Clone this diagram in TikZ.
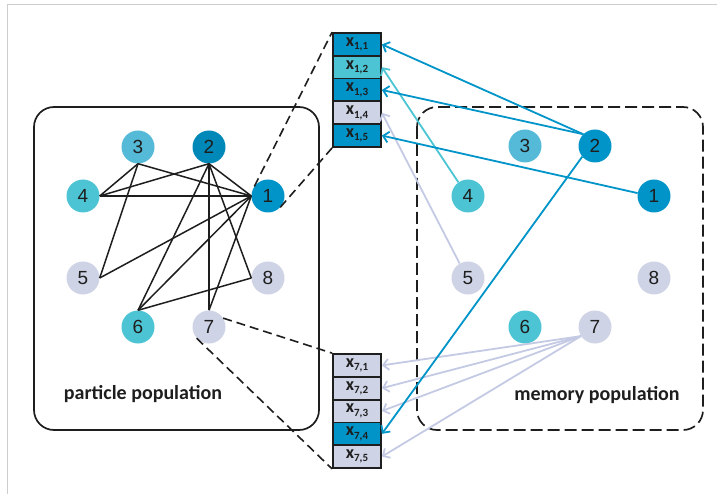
\documentclass[tikz,border=0pt]{standalone}
\usepackage{fontspec}
\setmainfont{Liberation Sans}
\newfontfamily\labelfont{Carlito}
\usetikzlibrary{arrows.meta}

\definecolor{cdark}{RGB}{0,148,200}
\definecolor{cmid}{RGB}{84,186,216}
\definecolor{cteal}{RGB}{76,196,212}
\definecolor{clav}{RGB}{206,211,230}
\definecolor{clavline}{RGB}{196,202,228}
\definecolor{ink}{RGB}{30,30,30}
\definecolor{framegray}{RGB}{205,205,205}

% subscript of a memory cell label
\newcommand\cellsub[1]{\raisebox{-0.4ex}{\fontsize{11}{11}\selectfont #1}}

\begin{document}
\begin{tikzpicture}[x=1pt,y=-1pt,
  pt/.style={circle,minimum size=33pt,inner sep=0pt,text=ink,
    font=\fontsize{19}{19}\selectfont},
  cellbox/.style={draw=ink,line width=1.8pt,minimum width=48pt,
    minimum height=22.8pt,inner sep=0pt,text=ink,
    font=\labelfont\bfseries\fontsize{18}{18}\selectfont},
  popbox/.style={draw=ink,line width=1.7pt,rounded corners=20pt},
  edge/.style={draw=ink,line width=1.5pt},
  zoomline/.style={draw=ink,line width=1.6pt,dash pattern=on 9pt off 5pt},
  copyarrow/.style={line width=1.8pt,
    -{Straight Barb[length=5.5pt,width=11pt,line width=1.8pt]}},
  poplabel/.style={text=ink,font=\labelfont\bfseries\fontsize{20}{20}\selectfont}
]
\useasboundingbox (0,0) rectangle (717,494);

% outer frame
\draw[framegray,line width=1.4pt] (7.5,494) -- (7.5,4.5) -- (717,4.5);

% population containers
\draw[popbox] (34,107) rectangle (319,430);
\draw[popbox,dash pattern=on 12pt off 5pt] (417,107) rectangle (703,430);
\node[poplabel] (plabel) at (143,394) {particle population};
\node[poplabel] (mlabel) at (597,395) {memory population};

% particle population
\node[pt,fill=cdark] (p1) at (268,196) {1};
\node[pt,fill=cdark!92!black] (p2) at (209,147) {2};
\node[pt,fill=cmid] (p3) at (138,147) {3};
\node[pt,fill=cteal] (p4) at (83,196) {4};
\node[pt,fill=clav] (p5) at (83,278) {5};
\node[pt,fill=cteal] (p6) at (138,327) {6};
\node[pt,fill=clav] (p7) at (209,327) {7};
\node[pt,fill=clav] (p8) at (268,278) {8};

% memory population
\node[pt,fill=cdark] (m1) at (654,196) {1};
\node[pt,fill=cdark] (m2) at (595,146) {2};
\node[pt,fill=cmid] (m3) at (525,146) {3};
\node[pt,fill=cteal] (m4) at (468,196) {4};
\node[pt,fill=clav] (m5) at (468,278) {5};
\node[pt,fill=cteal] (m6) at (525,327) {6};
\node[pt,fill=clav] (m7) at (595,327) {7};
\node[pt,fill=clav] (m8) at (654,278) {8};

% position vector of particle 1
\node[cellbox,fill=cdark] (c11) at (357,44.4) {x\cellsub{1,1}};
\node[cellbox,fill=cteal] (c12) at (357,67.2) {x\cellsub{1,2}};
\node[cellbox,fill=cdark] (c13) at (357,90.0) {x\cellsub{1,3}};
\node[cellbox,fill=clav] (c14) at (357,112.8) {x\cellsub{1,4}};
\node[cellbox,fill=cdark] (c15) at (357,135.6) {x\cellsub{1,5}};

% position vector of particle 7
\node[cellbox,fill=clav] (c71) at (357,365.4) {x\cellsub{7,1}};
\node[cellbox,fill=clav] (c72) at (357,388.2) {x\cellsub{7,2}};
\node[cellbox,fill=clav] (c73) at (357,411.0) {x\cellsub{7,3}};
\node[cellbox,fill=cdark] (c74) at (357,433.8) {x\cellsub{7,4}};
\node[cellbox,fill=clav] (c75) at (357,456.6) {x\cellsub{7,5}};

% neighbourhood topology
\draw[edge] (p3.south) -- (p4.east);
\draw[edge] (p3.south) -- (p1.west);
\draw[edge] (p3.south) -- (p5.east);
\draw[edge] (p2.south) -- (p4.east);
\draw[edge] (p2.south) -- (p1.west);
\draw[edge] (p2.south) -- (p6.north);
\draw[edge] (p2.south) -- (p7.north);
\draw[edge] (p2.south) -- (p8.west);
\draw[edge] (p4.east) -- (p1.west);
\draw[edge] (p1.west) -- (p5.east);
\draw[edge] (p1.west) -- (p6.north);
\draw[edge] (p1.west) -- (p7.north);
\draw[edge] (p6.north) -- (p8.west);

% expansion of particles into their dimensions
\draw[zoomline] (p1.145) -- (c11.north west);
\draw[zoomline] (p1.317) -- (c15.south west);
\draw[zoomline] (p7.32) -- (c71.north west);
\draw[zoomline] (p7.222) -- (c75.south west);

% dimensions copied from memory
\draw[copyarrow,cdark] (m2.135) -- (c11.east);
\draw[copyarrow,cteal] (m4.125) -- (c12.east);
\draw[copyarrow,cdark] (m2.135) -- (c13.east);
\draw[copyarrow,clavline] (m5.120) -- (c14.east);
\draw[copyarrow,cdark] (m1.170) -- (c15.east);
\draw[copyarrow,clavline] (m7.213) -- (c71.east);
\draw[copyarrow,clavline] (m7.213) -- (c72.east);
\draw[copyarrow,clavline] (m7.213) -- (c73.east);
\draw[copyarrow,cdark] (m2.220) -- (c74.east);
\draw[copyarrow,clavline] (m7.213) -- (c75.east);
\end{tikzpicture}
\end{document}
